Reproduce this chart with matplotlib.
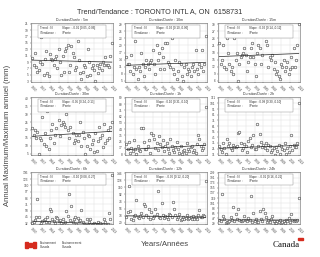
import numpy as np
import matplotlib.pyplot as plt
import matplotlib.patches as mpatches

plt.rcParams['font.family'] = ['Liberation Sans', 'DejaVu Sans']

# Datos (maximos anuales, mm)
years = list(range(1950, 2014))
durations = ["5m", "10m", "15m", "30m", "1h", "2h", "6h", "12h", "24h"]

v_5m = [10.2, 8.0, 12.0, 7.5, 6.0, 6.5, 9.0, 17.0, 8.5, 5.0,
        10.0, 12.5, 5.5, 4.5, 11.5, 10.0, 9.5, 8.0, 10.0, 11.0,
        7.0, 13.0, 9.0, 5.0, 11.0, 6.0, 12.5, 13.5, 14.5, 6.0,
        8.0, 14.0, 12.0, 10.5, 6.5, 7.5, 15.5, 9.5, 5.5, 3.5,
        6.0, 8.0, 7.5, 4.5, 13.0, 9.0, 5.0, 7.0, 8.0, 6.5,
        3.0, 8.0, 5.5, 7.0, 8.5, 6.5, 9.0, 8.0, 10.5, 8.0,
        8.0, 7.5, 11.0, 15.0]
v_10m = [15, 12, 12, 9, 16, 8, 11, 22, 10, 6,
         11, 9, 17, 12, 7, 11, 14, 12, 10, 13,
         14, 18, 12, 8, 20, 14, 17, 10, 19, 15,
         10, 21, 21, 13, 12, 11, 23, 10, 8, 14,
         6, 9, 13, 12, 7, 5, 11, 12, 8, 10,
         9, 7, 11, 12, 9, 18, 10, 8, 12, 11,
         18, 9, 12, 24]
v_15m = [22, 13, 15, 21, 12, 11, 24, 18, 13, 10,
         12, 9, 24, 15, 18, 6, 13, 16, 17, 18,
         20, 17, 10, 14, 16, 20, 22, 16, 13, 8,
         18, 21, 20, 13, 17, 26, 25, 23, 21, 12,
         16, 15, 17, 11, 14, 9, 10, 8, 7, 13,
         12, 15, 10, 12, 14, 9, 11, 16, 12, 20,
         12, 15, 21, 30]
v_30m = [21, 17, 20, 15, 19, 5, 15, 14, 28, 11,
         18, 10, 32, 8, 15, 20, 24, 12, 17, 21,
         35, 26, 16, 23, 25, 24, 22, 30, 20, 15,
         22, 34, 18, 12, 14, 17, 13, 17, 25, 10,
         19, 15, 5, 10, 17, 16, 8, 11, 14, 6,
         18, 7, 13, 22, 15, 17, 9, 24, 12, 14,
         20, 15, 22, 25]
v_1h = [22, 15, 26, 10, 17, 12, 28, 15, 8, 20,
        14, 12, 45, 46, 26, 15, 16, 20, 28, 10,
        38, 35, 30, 17, 24, 14, 34, 22, 18, 28,
        12, 19, 24, 16, 9, 30, 20, 14, 11, 18,
        26, 15, 10, 20, 8, 13, 14, 9, 24, 16,
        12, 18, 20, 11, 14, 9, 22, 35, 30, 20,
        14, 17, 22, 76]
v_2h = [26, 20, 14, 31, 22, 12, 38, 25, 30, 22,
        18, 28, 23, 24, 25, 48, 50, 30, 18, 22,
        29, 26, 14, 34, 40, 24, 28, 45, 20, 20,
        65, 25, 47, 33, 24, 28, 22, 31, 19, 28,
        25, 14, 18, 22, 10, 24, 16, 28, 12, 26,
        21, 18, 30, 12, 22, 14, 26, 45, 18, 27,
        23, 24, 30, 101]
v_6h = [32, 35, 38, 44, 82, 45, 28, 33, 36, 38,
        41, 34, 44, 34, 62, 56, 41, 37, 32, 45,
        42, 36, 38, 33, 40, 30, 34, 56, 47, 93,
        38, 67, 35, 40, 45, 30, 42, 36, 38, 60,
        34, 31, 28, 40, 29, 35, 41, 29, 30, 33,
        31, 28, 35, 30, 33, 29, 31, 40, 34, 28,
        30, 52, 40, 131]
v_12h = [35, 48, 113, 50, 30, 28, 38, 40, 77, 35,
         32, 38, 44, 36, 67, 62, 41, 35, 55, 30,
         48, 33, 38, 54, 42, 100, 36, 33, 70, 40,
         32, 38, 36, 30, 42, 39, 35, 73, 55, 40,
         30, 34, 42, 28, 31, 36, 30, 33, 41, 29,
         32, 35, 30, 38, 31, 34, 29, 40, 52, 35,
         36, 40, 37, 125]
v_24h = [40, 38, 135, 55, 45, 30, 32, 35, 36, 50,
         42, 88, 38, 62, 45, 80, 40, 38, 36, 42,
         55, 40, 38, 48, 42, 125, 35, 65, 38, 45,
         35, 33, 72, 45, 38, 80, 65, 50, 35, 40,
         32, 45, 55, 38, 30, 29, 36, 33, 40, 31,
         35, 38, 30, 42, 36, 48, 33, 62, 40, 38,
         42, 36, 40, 120]
values = [v_5m, v_10m, v_15m, v_30m, v_1h, v_2h, v_6h, v_12h, v_24h]

# ticks del eje y (inicio, fin, paso)
yticks = [(3, 21, 2), (5, 29, 3), (6, 30, 3),
          (5, 40, 5), (8, 89, 9), (11, 111, 10),
          (32, 136, 13), (20, 146, 18), (29, 209, 18)]
xticks = [1950, 1957, 1964, 1971, 1978, 1985, 1992, 1999, 2006, 2013]

# tendencia: valor en 1950 y pendiente
trend_start = [9.6, 11.6, 16.3, 16.0, 14.5, 21.5, 36.0, 38.0, 41.0]
slopes = [-0.01, 0.02, 0.02, 0.05, 0.10, 0.08, -0.10, -0.06, -0.01]
slope_ci = ["[0.05,-0.06]", "[0.10,-0.06]", "[0.14,-0.12]",
            "[0.24,-0.13]", "[0.31,-0.10]", "[0.30,-0.10]",
            "[0.08,-0.27]", "[0.12,-0.20]", "[0.16,-0.21]"]

W, H = 320, 257
fig = plt.figure(figsize=(W / 100, H / 100), dpi=100)
fig.text(0.5, 1 - 12 / H, "Trend/Tendance : TORONTO INTL A, ON  6158731",
         ha="center", va="center", fontsize=5.2, color="#333333")

col_left = [31, 125, 218]
col_w = 82
rows = [(23, 82), (97, 155), (172, 224)]

yr = np.array(years)
for i, dur in enumerate(durations):
    r, c = divmod(i, 3)
    top, bot = rows[r]
    ax = fig.add_axes([col_left[c] / W, 1 - bot / H, col_w / W, (bot - top) / H])
    lo, hi, st = yticks[i]
    ax.plot(yr, values[i], linestyle="none", marker="o", markersize=1.9,
            mfc="white", mec="#444444", mew=0.4)
    ax.plot(yr, trend_start[i] + slopes[i] * (yr - 1950), color="#222222", lw=0.5)
    ax.set_xlim(1949, 2014)
    ax.set_ylim(lo - 0.15 * st, hi + 0.15 * st)
    ax.set_yticks(np.arange(lo, hi + 1, st))
    ax.set_xticks(xticks)
    ax.set_xticklabels([str(x) for x in xticks], rotation=-45, ha="left",
                       rotation_mode="anchor")
    ax.tick_params(labelsize=2.3, length=1, width=0.3, pad=0.8, colors="#444444")
    ax.grid(True, color="#dddddd", lw=0.3)
    ax.set_axisbelow(True)
    for s in ax.spines.values():
        s.set_linewidth(0.4)
        s.set_color("#666666")
    ax.set_title("Duration/Durée : " + dur, fontsize=2.5, pad=1.2, color="#333333")
    ax.add_patch(mpatches.Rectangle((0.08, 0.75), 0.84, 0.22, transform=ax.transAxes,
                                    facecolor="white", edgecolor="#888888", lw=0.3,
                                    zorder=3))
    ax.text(0.11, 0.945, "Trend : N\n/Tendance :", transform=ax.transAxes,
            fontsize=2.2, va="top", zorder=4, linespacing=1.1, color="#333333")
    ax.text(0.38, 0.945, "Slope : %.2f %s\n/Pente" % (slopes[i], slope_ci[i]),
            transform=ax.transAxes, fontsize=2.2, va="top", zorder=4,
            linespacing=1.1, color="#333333")

fig.text(8 / W, 1 - 135 / H, "Annual Maximum/Maximum annuel (mm)", rotation=90,
         ha="center", va="center", fontsize=5.6, color="#444444")
fig.text(165 / W, 1 - 244 / H, "Years/Années", ha="center", va="center",
         fontsize=5.6, color="#444444")

# logo Environnement Canada
fx, fy = 25 / W, 1 - 248 / H
fw, fh = 11 / W, 6 / H
fig.patches.append(mpatches.Rectangle((fx, fy), fw * 0.27, fh, transform=fig.transFigure,
                                      color="#d52b1e"))
fig.patches.append(mpatches.Rectangle((fx + fw * 0.73, fy), fw * 0.27, fh,
                                      transform=fig.transFigure, color="#d52b1e"))
fig.patches.append(mpatches.Rectangle((fx + fw * 0.40, fy + fh * 0.2), fw * 0.2, fh * 0.6,
                                      transform=fig.transFigure, color="#d52b1e"))
fig.text(40 / W, 1 - 245 / H, "Environment\nCanada", fontsize=2.1, va="center",
         linespacing=1.0, color="#333333")
fig.text(62 / W, 1 - 245 / H, "Environnement\nCanada", fontsize=2.1, va="center",
         linespacing=1.0, color="#333333")
fig.text(286 / W, 1 - 245 / H, "Canada", fontsize=6.5, ha="center", va="center",
         family="Liberation Serif", color="#111111")
fig.patches.append(mpatches.Rectangle((298 / W, 1 - 240 / H), 5 / W, 2.5 / H,
                                      transform=fig.transFigure, color="#d52b1e"))

fig.savefig("out.png", dpi=100)
